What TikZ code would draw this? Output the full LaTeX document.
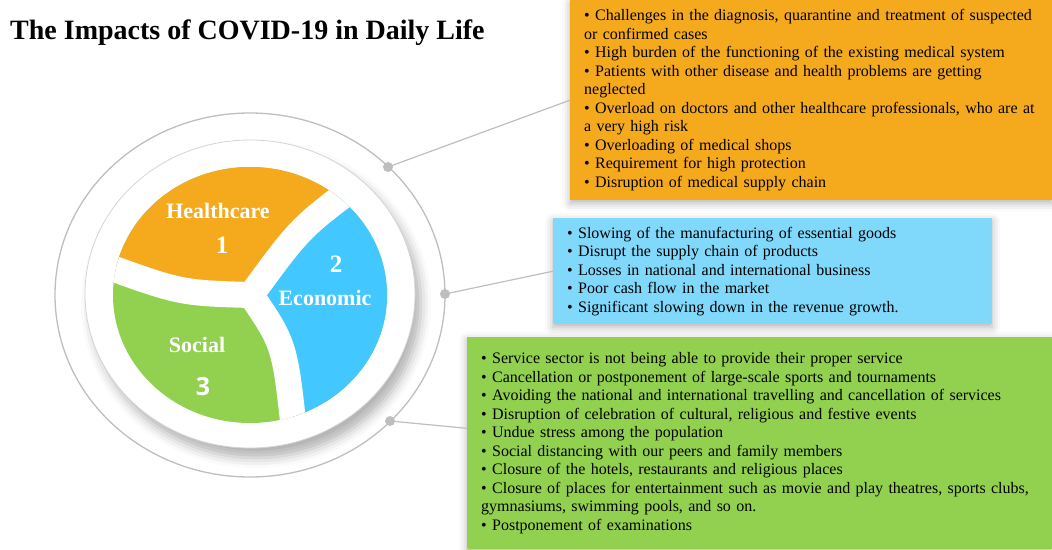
\documentclass[tikz,border=0pt]{standalone}
\usepackage{fontspec}
\setmainfont{Liberation Serif}
\newfontfamily\numfont{Open Sans}
\usetikzlibrary{calc,shadows.blur}

\definecolor{hcorange}{RGB}{245,170,30}
\definecolor{ecblue}{RGB}{66,199,255}
\definecolor{boxblue}{RGB}{128,216,250}
\definecolor{scgreen}{RGB}{146,208,80}
\definecolor{ringgray}{RGB}{190,190,190}
\definecolor{discgray}{RGB}{212,212,212}

\tikzset{
  ring/.style={draw=ringgray, line width=1.3pt},
  dot/.style={circle, fill=ringgray, inner sep=0pt, minimum size=10pt},
  linker/.style={draw=ringgray, line width=1.2pt},
  gap/.style={draw=white, line width=26pt},
  infobox/.style={anchor=north west, align=left, inner xsep=14pt, inner ysep=0pt,
    font=\fontsize{16}{18.5}\selectfont,
    blur shadow={shadow xshift=0pt, shadow yshift=-3pt, shadow blur radius=8pt, shadow opacity=30}},
  seclabel/.style={text=white, font=\fontsize{22}{24}\selectfont\bfseries},
  secnum/.style={text=white, font=\fontsize{25}{27}\selectfont\bfseries},
}

\begin{document}
\begin{tikzpicture}[x=1pt, y=-1pt]
\useasboundingbox (0,0) rectangle (1052,549);

\node[anchor=west, inner sep=0pt, font=\fontsize{28}{30}\selectfont\bfseries] (title) at (10,33) {The Impacts of COVID-19 in Daily Life};

% rings
\draw[ring] (250,295) ellipse [x radius=195pt, y radius=182pt];
\fill[white, draw=discgray, line width=0.8pt,
  blur shadow={shadow xshift=6pt, shadow yshift=-10pt, shadow blur radius=10pt, shadow opacity=30}]
  (250,294) ellipse [x radius=165pt, y radius=154pt];

% pie
\coordinate (c) at (251,295);
\begin{scope}
  \clip (250,295) ellipse [x radius=137pt, y radius=128pt];
  \fill[scgreen] (100,150) rectangle (400,440);
  \fill[hcorange] (c) .. controls (180,293) .. (95,262) -- (60,100) -- (400,100) -- (360,183) .. controls (300,228) .. (c);
  \fill[ecblue] (c) .. controls (300,228) .. (360,183) -- (450,150) -- (450,470) -- (295,440) .. controls (285,345) .. (c);
  \draw[gap] (c) .. controls (180,293) .. (95,262);
  \draw[gap] (c) .. controls (300,228) .. (360,183);
  \draw[gap] (c) .. controls (285,345) .. (295,440);
\end{scope}

\node[seclabel] (hlab) at (218,211) {Healthcare};
\node[secnum] (hnum) at (222,245) {1};
\node[secnum] (enum) at (336,264) {2};
\node[seclabel] (elab) at (325,298) {Economic};
\node[seclabel] (slab) at (197,345) {Social};
\node[secnum, font=\fontsize{25}{27}\selectfont\numfont\bfseries] (snum) at (203,387) {3};

% boxes
\node[infobox, fill=hcorange, text width=454pt, minimum height=200pt] (hbox) at (570,0) {%
• Challenges in the diagnosis, quarantine and treatment of suspected\\
or confirmed cases\\
• High burden of the functioning of the existing medical system\\
• Patients with other disease and health problems are getting\\
neglected\\
• Overload on doctors and other healthcare professionals, who are at\\
a very high risk\\
• Overloading of medical shops\\
• Requirement for high protection\\
• Disruption of medical supply chain};

\node[infobox, fill=boxblue, text width=411pt, minimum height=106pt] (ebox) at (553,218) {%
• Slowing of the manufacturing of essential goods\\
• Disrupt the supply chain of products\\
• Losses in national and international business\\
• Poor cash flow in the market\\
• Significant slowing down in the revenue growth.};

\node[infobox, fill=scgreen, text width=557pt, minimum height=212pt] (sbox) at (467,337) {%
• Service sector is not being able to provide their proper service\\
• Cancellation or postponement of large-scale sports and tournaments\\
• Avoiding the national and international travelling and cancellation of services\\
• Disruption of celebration of cultural, religious and festive events\\
• Undue stress among the population\\
• Social distancing with our peers and family members\\
• Closure of the hotels, restaurants and religious places\\
• Closure of places for entertainment such as movie and play theatres, sports clubs,\\
gymnasiums, swimming pools, and so on.\\
• Postponement of examinations};

% connectors
\coordinate (pH) at (388,167);
\coordinate (pE) at (445,294);
\coordinate (pS) at (390,421);
\draw[linker] (pH) -- (hbox.west);
\draw[linker] (pE) -- (ebox.west);
\draw[linker] (pS) -- ($(sbox.north west)!0.43!(sbox.south west)$);
\foreach \p in {pH,pE,pS} \node[dot] at (\p) {};

\end{tikzpicture}
\end{document}
